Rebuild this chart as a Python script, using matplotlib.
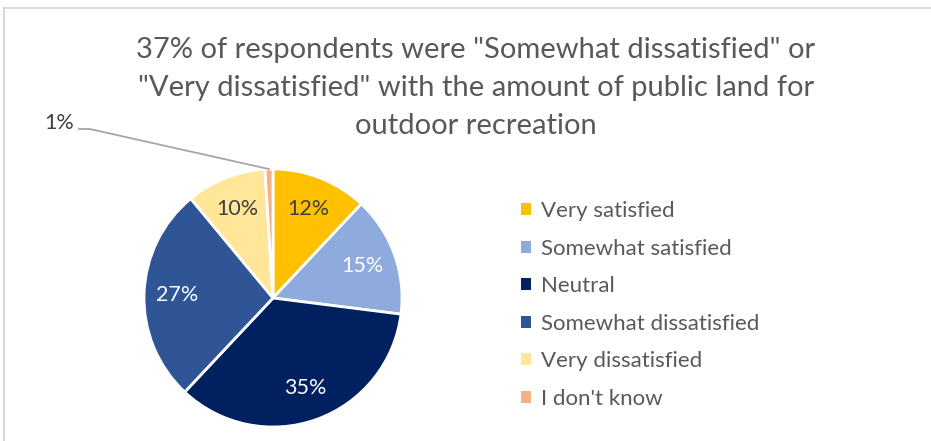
import matplotlib.pyplot as plt
from matplotlib.patches import Patch
from matplotlib.lines import Line2D
import numpy as np

plt.rcParams['font.family'] = ['Lato', 'DejaVu Sans']

categories = ['Very satisfied', 'Somewhat satisfied', 'Neutral',
              'Somewhat dissatisfied', 'Very dissatisfied', "I don't know"]
shares = [12, 15, 35, 27, 10, 1]
colors = ['#FFC000', '#8FAADC', '#002060', '#2F5597', '#FFE699', '#F4B183']
label_colors = ['#404040', 'white', 'white', 'white', '#404040', '#404040']
title = ('37% of respondents were "Somewhat dissatisfied" or\n'
         '"Very dissatisfied" with the amount of public land for\n'
         'outdoor recreation')

W, H = 931, 441
fig = plt.figure(figsize=(W / 100, H / 100), dpi=100)

# chart frame (only top and left edges show)
fig.add_artist(Line2D([4 / W, 4 / W], [0, 1 - 8 / H], color='#d9d9d9', lw=1.5))
fig.add_artist(Line2D([4 / W, 1], [1 - 8 / H, 1 - 8 / H], color='#d9d9d9', lw=1.5))

fig.text(476 / W, 1 - 88 / H, title, ha='center', va='center',
         fontsize=21, color='#595959', linespacing=1.55)

# pie centred at (273, 298) px, radius 129 px
cx, cy, r = 273, 298, 129
ax = fig.add_axes([(cx - r) / W, (H - cy - r) / H, 2 * r / W, 2 * r / H])
wedges, texts = ax.pie(shares, colors=colors, startangle=90, counterclock=False,
                       wedgeprops=dict(edgecolor='white', linewidth=2))
ax.set_xlim(-1, 1)
ax.set_ylim(-1, 1)
ax.set_aspect('equal')
ax.axis('off')

for w, s, c in zip(wedges, shares, label_colors):
    mid = np.deg2rad((w.theta1 + w.theta2) / 2)
    if s < 5:
        # small slice: label outside with a leader line
        ex, ey = np.cos(mid), np.sin(mid)
        lx, ly = -1.42, 1.31
        ax.plot([ex, lx, lx - 0.085], [ey, ly, ly], color='#a6a6a6', lw=1.3,
                clip_on=False)
        ax.text(lx - 0.12, ly + 0.05, f'{s}%', ha='right', va='center',
                fontsize=15.5, color='#404040', clip_on=False)
    else:
        ax.text(0.74 * np.cos(mid), 0.74 * np.sin(mid), f'{s}%', ha='center',
                va='center', fontsize=15.5, color=c)

handles = [Patch(facecolor=col, edgecolor='none') for col in colors]
fig.legend(handles, categories, loc='upper left',
           bbox_to_anchor=(501 / W, 1 - 181 / H), frameon=False,
           fontsize=16, labelcolor='#595959', handlelength=0.45,
           handleheight=0.45, handletextpad=0.45, labelspacing=0.79)

fig.savefig('out.png', dpi=100)
